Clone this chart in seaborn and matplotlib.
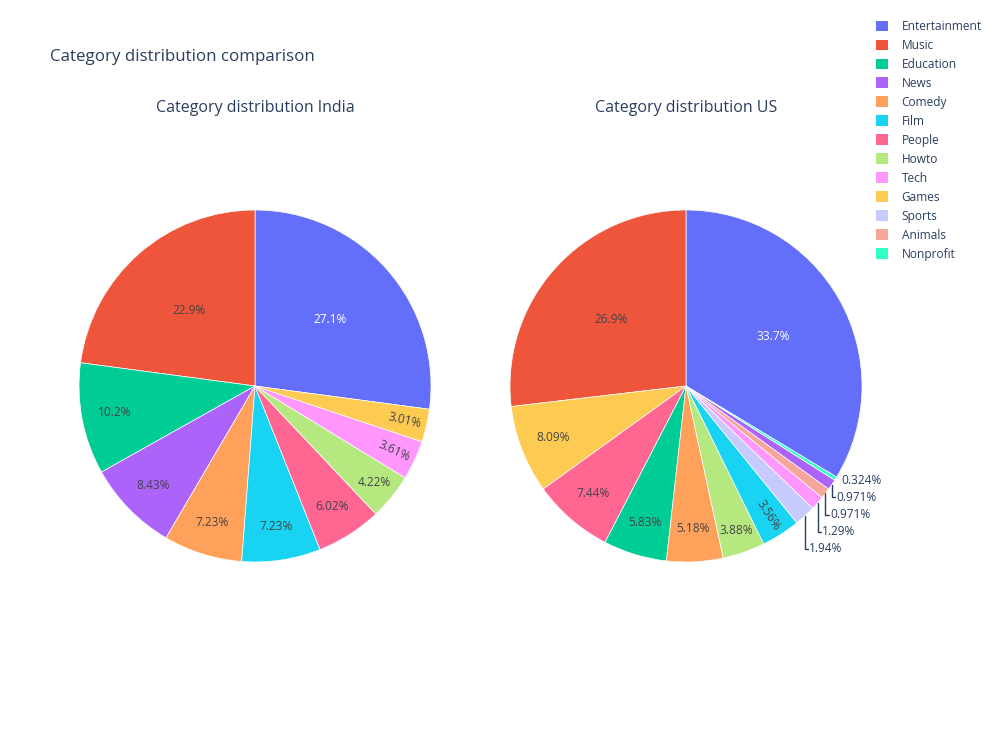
import numpy as np
import matplotlib.pyplot as plt
import seaborn as sns
from matplotlib.patches import Patch

# DATA

categories = ["Entertainment", "Music", "Education", "News", "Comedy", "Film", "People",
              "Howto", "Tech", "Games", "Sports", "Animals", "Nonprofit"]
category_colors = ["#636efa", "#EF553B", "#00cc96", "#ab63fa", "#FFA15A", "#19d3f3", "#FF6692",
                   "#B6E880", "#FF97FF", "#FECB52", "#c6cafd", "#f7a799", "#33ffc9"]

india_labels = ["Entertainment", "Music", "Education", "News", "Comedy", "Film", "People",
                "Howto", "Tech", "Games"]
india_counts = [45, 38, 17, 14, 12, 12, 10, 7, 6, 5]

us_labels = ["Entertainment", "Music", "Games", "People", "Education", "Comedy", "Howto",
             "Film", "Sports", "Tech", "Animals", "News", "Nonprofit"]
us_counts = [104, 83, 25, 23, 18, 16, 12, 11, 6, 4, 3, 3, 1]

main_title = "Category distribution comparison"
sub_titles = ["Category distribution India", "Category distribution US"]

# SET-UP

sns.set_theme(style="white")
plt.rcParams["font.family"] = ["Open Sans", "DejaVu Sans"]
palette = dict(zip(categories, category_colors))
title_color = "#2a3f5f"
dark_text = "#444444"

fig = plt.figure(figsize=(10, 7.5), dpi=100)


def text_color(hexcol):
    r, g, b = [int(hexcol[i:i + 2], 16) for i in (1, 3, 5)]
    return "white" if (r * 299 + g * 587 + b * 114) / 1000 < 128 else dark_text


def draw_pie(ax, labels, counts):
    total = sum(counts)
    start = 90 - 360 * counts[0] / total
    wedges, _ = ax.pie(counts, colors=[palette[l] for l in labels], startangle=start,
                       counterclock=True, radius=1,
                       wedgeprops=dict(linewidth=0.5, edgecolor="white"))
    outside = []
    for w, lab, c in zip(wedges, labels, counts):
        pct = 100 * c / total
        mid_deg = ((w.theta1 + w.theta2) / 2 + 180) % 360 - 180
        mid = np.deg2rad(mid_deg)
        txt = f"{pct:.3g}%"
        if pct < 2:
            outside.append((np.cos(mid), np.sin(mid), txt))
            continue
        if pct >= 20:
            r = 0.57
        elif pct >= 5:
            r = 0.81
        else:
            r = 0.87
        rot = 0
        if pct < 3.7:
            rot = mid_deg
            if rot > 90:
                rot -= 180
            elif rot < -90:
                rot += 180
        ax.text(r * np.cos(mid), r * np.sin(mid), txt, ha="center", va="center",
                rotation=rot, rotation_mode="anchor", fontsize=8.6,
                color=text_color(palette[lab]))

    # outside labels with elbow leader lines
    outside.sort(key=lambda t: -t[1])
    prev_y = None
    for ex, ey, txt in outside:
        ly = ey - 0.01 if prev_y is None else min(ey - 0.01, prev_y - 0.097)
        prev_y = ly
        if ey - ly > 0.03:
            ax.plot([ex, ex, ex + 0.02], [ey, ly, ly], color=title_color, lw=1, clip_on=False)
            tx = ex + 0.025
        else:
            tx = ex + 0.03
        ax.text(tx, ly, txt, ha="left", va="center", fontsize=8.6, color=title_color)

    ax.set_xlim(-1, 1)
    ax.set_ylim(-1, 1)
    ax.axis("off")


R = 176
for cx, labels, counts, st in [(255, india_labels, india_counts, sub_titles[0]),
                               (686, us_labels, us_counts, sub_titles[1])]:
    ax = fig.add_axes([(cx - R) / 1000, (750 - 386 - R) / 750, 2 * R / 1000, 2 * R / 750])
    draw_pie(ax, labels, counts)
    fig.text(cx / 1000, 1 - 108 / 750, st, ha="center", va="center", fontsize=11.5,
             color=title_color)

fig.text(0.05, 1 - 57 / 750, main_title, ha="left", va="center", fontsize=12.2,
         color=title_color)

handles = [Patch(facecolor=palette[c], edgecolor="none", label=c) for c in categories]
fig.legend(handles=handles, loc="upper left", bbox_to_anchor=(0.876, 1 - 20 / 750),
           frameon=False, fontsize=8.6, handlelength=1.0, handleheight=1.0,
           handletextpad=1.15, labelspacing=0.5, borderpad=0, borderaxespad=0,
           labelcolor=title_color)

fig.savefig("out.png", dpi=100)
